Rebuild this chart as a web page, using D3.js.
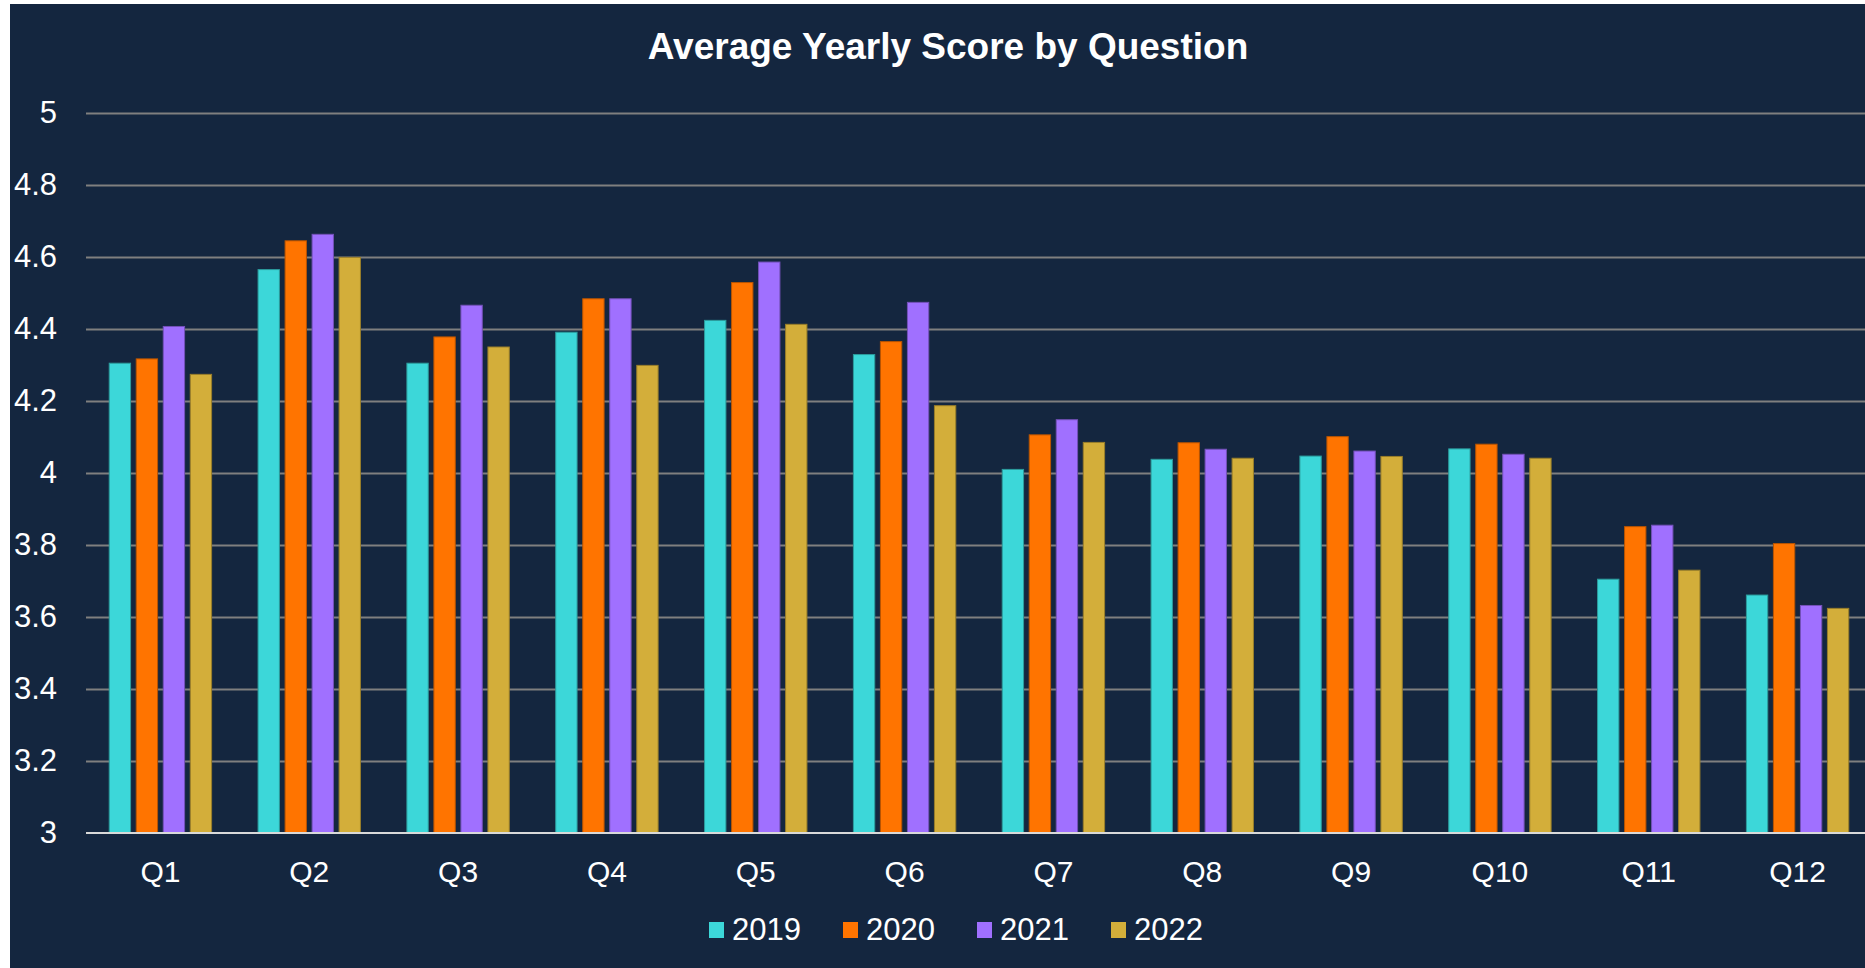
<!DOCTYPE html>
<html>
<head>
<meta charset="utf-8">
<script src="https://cdnjs.cloudflare.com/ajax/libs/d3/7.8.5/d3.min.js"></script>
<style>
  html, body { margin: 0; padding: 0; background: #fff; overflow: hidden; }
  svg { display: block; font-family: "Liberation Sans", Arial, sans-serif; }
</style>
</head>
<body>
<svg width="1865" height="968"></svg>
<script>
    var questions = ['Q1', 'Q2', 'Q3', 'Q4', 'Q5', 'Q6', 'Q7', 'Q8', 'Q9', 'Q10', 'Q11', 'Q12'];
    var years = ['2019', '2020', '2021', '2022'];

    var scores2019 = [4.305, 4.565, 4.305, 4.391, 4.424, 4.329, 4.010, 4.038, 4.047, 4.067, 3.705, 3.661];
    var scores2020 = [4.317, 4.645, 4.378, 4.484, 4.529, 4.365, 4.106, 4.084, 4.101, 4.080, 3.851, 3.804];
    var scores2021 = [4.407, 4.663, 4.466, 4.484, 4.586, 4.474, 4.148, 4.066, 4.061, 4.052, 3.855, 3.632];
    var scores2022 = [4.274, 4.599, 4.350, 4.299, 4.413, 4.187, 4.085, 4.041, 4.046, 4.041, 3.730, 3.624];

    var yTicks = [3, 3.2, 3.4, 3.6, 3.8, 4, 4.2, 4.4, 4.6, 4.8, 5];
    var colors = ['#3cd7d9', '#ff7400', '#a070ff', '#d3ae3a'];

    var series = [scores2019, scores2020, scores2021, scores2022];

    // flat list of bars, one per question/year
    var bars = [];
    questions.forEach(function (q, i) {
      years.forEach(function (y, j) {
        bars.push({ q: q, year: y, value: series[j][i], color: colors[j] });
      });
    });

    var width = 1865;
    var height = 968;
    var margin = { top: 113, bottom: 135, left: 86, right: -7 };

    var svg = d3.select('svg');

    // dark panel (chart sits a bit off the top/left edge)
    svg.append('rect')
      .attr('x', 10)
      .attr('y', 4)
      .attr('width', width - 10)
      .attr('height', height - 4)
      .attr('fill', '#14263f');

    var x0 = d3.scaleBand()
      .domain(questions)
      .range([margin.left, width - margin.right])
      .paddingInner(0)
      .paddingOuter(0);

    var x1 = d3.scaleBand()
      .domain(years)
      .range([0, x0.bandwidth()])
      .paddingInner(0.21)
      .paddingOuter(0.86);

    var yScale = d3.scaleLinear()
      .domain([3, 5])
      .range([height - margin.bottom, margin.top]);

    // gridlines
    var yGrid = d3.axisLeft(yScale)
      .tickValues(yTicks.slice(1))
      .tickSize(-(width - margin.left))
      .tickFormat('');

    svg.append('g')
      .attr('transform', 'translate(' + [margin.left, 0] + ')')
      .call(yGrid)
      .call(g => g.select('.domain').remove())
      .call(g => g.selectAll('line').attr('stroke', '#7f7f7f').attr('stroke-width', 2));

    // bars
    svg.append('g')
      .selectAll('rect')
      .data(bars)
      .enter().append('rect')
      .attr('x', d => x0(d.q) + x1(d.year))
      .attr('y', d => yScale(d.value))
      .attr('width', x1.bandwidth())
      .attr('height', d => yScale(3) - yScale(d.value))
      .attr('fill', d => d.color)
      .attr('stroke', d => d3.color(d.color).darker(0.9))
      .attr('stroke-width', 1);

    // base line at 3
    svg.append('line')
      .attr('x1', margin.left)
      .attr('x2', width)
      .attr('y1', yScale(3))
      .attr('y2', yScale(3))
      .attr('stroke', '#d9d9d9')
      .attr('stroke-width', 2);

    // y axis labels
    var yAxis = d3.axisLeft(yScale)
      .tickValues(yTicks)
      .tickSize(0)
      .tickPadding(29)
      .tickFormat(d => d3.format('~g')(d));

    svg.append('g')
      .attr('transform', 'translate(' + [margin.left, 0] + ')')
      .call(yAxis)
      .call(g => g.select('.domain').remove())
      .call(g => g.selectAll('text')
        .attr('fill', '#ffffff')
        .attr('font-size', 31)
        .attr('font-family', '"Liberation Sans", Arial, sans-serif'));

    // x axis labels
    var xAxis = d3.axisBottom(x0).tickSize(0).tickPadding(28);

    svg.append('g')
      .attr('transform', 'translate(' + [0, yScale(3)] + ')')
      .call(xAxis)
      .call(g => g.select('.domain').remove())
      .call(g => g.selectAll('text')
        .attr('fill', '#ffffff')
        .attr('font-size', 30)
        .attr('font-family', '"Liberation Sans", Arial, sans-serif'));

    // title
    svg.append('text')
      .attr('x', 948)
      .attr('y', 59)
      .attr('text-anchor', 'middle')
      .attr('fill', '#ffffff')
      .attr('font-size', 37)
      .attr('font-weight', 'bold')
      .text('Average Yearly Score by Question');

    // legend
    var legendStep = 134;
    var legend = svg.append('g')
      .attr('transform', 'translate(' + [709, 922] + ')');

    var item = legend.selectAll('g')
      .data(years)
      .enter().append('g')
      .attr('transform', (d, i) => 'translate(' + [i * legendStep, 0] + ')');

    item.append('rect')
      .attr('width', 15)
      .attr('height', 16)
      .attr('fill', (d, i) => colors[i]);

    item.append('text')
      .attr('x', 23)
      .attr('y', 18)
      .attr('fill', '#ffffff')
      .attr('font-size', 31)
      .text(d => d);
</script>
</body>
</html>
